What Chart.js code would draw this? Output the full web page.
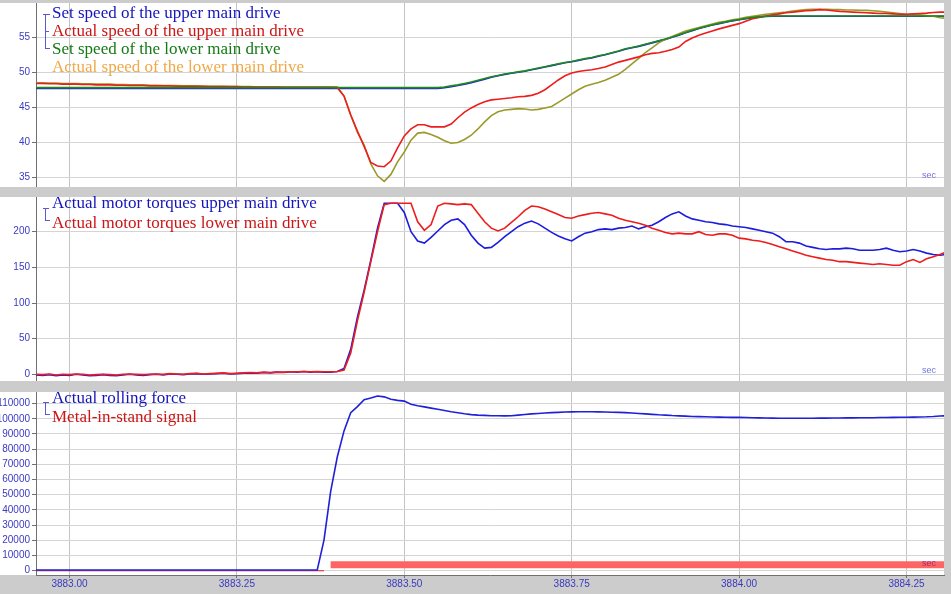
<!DOCTYPE html>
<html>
<head>
<meta charset="utf-8">
<script src="https://cdn.jsdelivr.net/npm/chart.js@4.4.1/dist/chart.umd.min.js"></script>
<style>
  body { margin: 0; background: #cccccc; width: 951px; height: 594px; overflow: hidden; position: relative; }
  canvas { position: absolute; left: 0; }
  .legend { position: absolute; left: 52px; font-family: "Liberation Serif", "Times New Roman", serif; font-size: 17px; white-space: nowrap; z-index: 2; }
  .ln { position: absolute; background: #5a5acc; z-index: 2; }
  .sec { position: absolute; left: 922px; font: 9px "Liberation Sans", Arial, sans-serif; color: #7474dd; z-index: 2; }
</style>
</head>
<body>
<canvas id="speed" width="951" height="187" style="top:0px"></canvas>
<canvas id="torque" width="951" height="186" style="top:195px"></canvas>
<canvas id="force" width="951" height="205" style="top:389px"></canvas>

<div class="legend" style="top:4px; line-height:18px">
  <div style="color:#1515bb">Set speed of the upper main drive</div>
  <div style="color:#cc1515">Actual speed of the upper main drive</div>
  <div style="color:#157a15">Set speed of the lower main drive</div>
  <div style="color:#f0a848">Actual speed of the lower main drive</div>
</div>
<div class="ln" style="left:45px; top:14px; width:1px; height:35px"></div>
<div class="ln" style="left:43px; top:14px; width:7px; height:1px"></div>
<div class="ln" style="left:45px; top:31px; width:4px; height:1px"></div>
<div class="ln" style="left:45px; top:48px; width:5px; height:1px"></div>

<div class="legend" style="top:193px; line-height:19.5px">
  <div style="color:#1515bb">Actual motor torques upper main drive</div>
  <div style="color:#cc1515">Actual motor torques lower main drive</div>
</div>
<div class="ln" style="left:45px; top:208px; width:1px; height:13px"></div>
<div class="ln" style="left:43px; top:208px; width:6px; height:1px"></div>
<div class="ln" style="left:45px; top:220px; width:5px; height:1px"></div>

<div class="legend" style="top:389px; line-height:18.5px">
  <div style="color:#1515bb">Actual rolling force</div>
  <div style="color:#cc1515">Metal-in-stand signal</div>
</div>
<div class="ln" style="left:45px; top:402px; width:1px; height:13px"></div>
<div class="ln" style="left:43px; top:402px; width:6px; height:1px"></div>
<div class="ln" style="left:45px; top:414px; width:5px; height:1px"></div>

<div class="sec" style="top:170px">sec</div>
<div class="sec" style="top:365px">sec</div>
<div class="sec" style="top:558px; color:#a03070">sec</div>

<script>
// sampled every 10 ms starting at 3882.95 s
const t0 = 3882.95;
const dt = 0.01;

const timeTicks = [3883.00, 3883.25, 3883.50, 3883.75, 3884.00, 3884.25];
const speedTicks = [35, 40, 45, 50, 55];
const torqueTicks = [0, 50, 100, 150, 200];
const forceTicks = [0, 10000, 20000, 30000, 40000, 50000, 60000, 70000, 80000, 90000, 100000, 110000];

const setSpeedUpper = [
  47.7, 47.7, 47.7, 47.7, 47.7, 47.7, 47.7, 47.7, 47.7, 47.7,
  47.7, 47.7, 47.7, 47.7, 47.7, 47.7, 47.7, 47.7, 47.7, 47.7,
  47.7, 47.7, 47.7, 47.7, 47.7, 47.7, 47.7, 47.7, 47.7, 47.7,
  47.7, 47.7, 47.7, 47.7, 47.7, 47.7, 47.7, 47.7, 47.7, 47.7,
  47.7, 47.7, 47.7, 47.7, 47.7, 47.7, 47.7, 47.7, 47.7, 47.7,
  47.7, 47.7, 47.7, 47.7, 47.7, 47.7, 47.7, 47.7, 47.7, 47.7,
  47.7, 47.8, 47.95, 48.1, 48.3, 48.5, 48.75, 49.0, 49.3, 49.5,
  49.7, 49.85, 50.0, 50.15, 50.35, 50.55, 50.75, 50.95, 51.15, 51.35,
  51.5, 51.7, 51.9, 52.05, 52.3, 52.5, 52.75, 53.0, 53.3, 53.5,
  53.7, 53.95, 54.2, 54.45, 54.7, 55.0, 55.3, 55.65, 55.95, 56.25,
  56.5, 56.75, 56.95, 57.15, 57.35, 57.5, 57.65, 57.8, 57.9, 57.98,
  58.0, 58.0, 58.0, 58.0, 58.0, 58.0, 58.0, 58.0, 58.0, 58.0,
  58.0, 58.0, 58.0, 58.0, 58.0, 58.0, 58.0, 58.0, 58.0, 58.0,
  58.0, 58.0, 58.0, 58.0, 58.0, 58.0, 58.0
];
const actSpeedUpper = [
  48.4, 48.4, 48.35, 48.35, 48.3, 48.3, 48.3, 48.25, 48.25, 48.2,
  48.2, 48.2, 48.15, 48.15, 48.1, 48.1, 48.1, 48.05, 48.05, 48.05,
  48.05, 48.0, 48.0, 48.0, 48.0, 48.0, 47.95, 47.95, 47.95, 47.95,
  47.95, 47.9, 47.9, 47.9, 47.9, 47.9, 47.9, 47.85, 47.85, 47.85,
  47.85, 47.85, 47.85, 47.85, 47.85, 47.8, 46.6, 43.9, 41.6, 39.4,
  37.1, 36.6, 36.5, 37.3, 39.2, 40.9, 41.9, 42.5, 42.5, 42.2,
  42.2, 42.2, 42.6, 43.5, 44.3, 44.9, 45.4, 45.8, 46.05, 46.15,
  46.25, 46.35, 46.5, 46.55, 46.7, 47.0, 47.5, 48.2, 48.9, 49.5,
  49.9, 50.1, 50.25, 50.35, 50.55, 50.75, 51.1, 51.45, 51.7, 51.95,
  52.2, 52.5, 52.7, 52.8, 53.0, 53.25, 53.6, 54.4, 54.9, 55.3,
  55.6, 55.9, 56.2, 56.45, 56.7, 56.95, 57.3, 57.65, 57.85, 58.05,
  58.2, 58.35, 58.5, 58.6, 58.7, 58.8, 58.85, 58.95, 58.9, 58.8,
  58.7, 58.65, 58.6, 58.55, 58.5, 58.45, 58.4, 58.4, 58.35, 58.3,
  58.3, 58.35, 58.4, 58.45, 58.55, 58.6, 58.6
];
const setSpeedLower = [
  47.8, 47.8, 47.8, 47.8, 47.8, 47.8, 47.8, 47.8, 47.8, 47.8,
  47.8, 47.8, 47.8, 47.8, 47.8, 47.8, 47.8, 47.8, 47.8, 47.8,
  47.8, 47.8, 47.8, 47.8, 47.8, 47.8, 47.8, 47.8, 47.8, 47.8,
  47.8, 47.8, 47.8, 47.8, 47.8, 47.8, 47.8, 47.8, 47.8, 47.8,
  47.8, 47.8, 47.8, 47.8, 47.8, 47.8, 47.8, 47.8, 47.8, 47.8,
  47.8, 47.8, 47.8, 47.8, 47.8, 47.8, 47.8, 47.8, 47.8, 47.8,
  47.8, 47.9, 48.05, 48.2, 48.4, 48.6, 48.85, 49.1, 49.35, 49.55,
  49.75, 49.9, 50.05, 50.2, 50.4, 50.6, 50.8, 51.0, 51.2, 51.4,
  51.55, 51.75, 51.95, 52.1, 52.35, 52.55, 52.8, 53.05, 53.35, 53.55,
  53.75, 54.0, 54.25, 54.5, 54.75, 55.05, 55.35, 55.7, 56.0, 56.3,
  56.55, 56.8, 57.0, 57.2, 57.4, 57.55, 57.7, 57.85, 57.95, 58.0,
  58.05, 58.05, 58.05, 58.05, 58.05, 58.05, 58.05, 58.05, 58.05, 58.05,
  58.05, 58.05, 58.05, 58.05, 58.05, 58.05, 58.05, 58.05, 58.05, 58.05,
  58.05, 58.05, 58.05, 58.05, 58.05, 58.05, 58.05
];
const actSpeedLower = [
  48.5, 48.5, 48.45, 48.45, 48.4, 48.4, 48.4, 48.35, 48.35, 48.3,
  48.3, 48.3, 48.25, 48.25, 48.2, 48.2, 48.2, 48.15, 48.15, 48.1,
  48.1, 48.1, 48.05, 48.05, 48.05, 48.0, 48.0, 48.0, 48.0, 47.95,
  47.95, 47.95, 47.95, 47.9, 47.9, 47.9, 47.9, 47.9, 47.9, 47.9,
  47.9, 47.9, 47.9, 47.9, 47.9, 47.9, 46.6, 43.9, 41.4, 39.6,
  36.9, 35.2, 34.4, 35.4, 37.2, 38.6, 40.3, 41.3, 41.4, 41.1,
  40.7, 40.2, 39.85, 39.95, 40.4, 41.0, 41.9, 42.9, 43.8, 44.35,
  44.6, 44.7, 44.8, 44.75, 44.6, 44.7, 44.9, 45.1, 45.7, 46.3,
  46.9, 47.5, 48.0, 48.3, 48.55, 48.85, 49.3, 49.7, 50.4, 51.2,
  52.0, 52.8, 53.5, 54.2, 54.7, 55.1, 55.5, 55.9, 56.15, 56.4,
  56.65, 56.9, 57.15, 57.3, 57.5, 57.65, 57.85, 58.0, 58.15, 58.3,
  58.4, 58.5, 58.6, 58.75, 58.85, 58.95, 59.0, 59.0, 59.0, 58.95,
  58.95, 58.9, 58.9, 58.85, 58.85, 58.8, 58.7, 58.6, 58.5, 58.4,
  58.3, 58.25, 58.2, 58.1, 58.0, 57.8, 57.7
];

const torqueUpper = [
  -1, -1.5, -0.5, -2, -1, -1.5, 0, -1, -2, -1.5,
  -0.5, -1.5, -2, -1, 0, -1, -1.5, -0.5, 0, -1,
  0.5, 0, -0.5, 0.5, 1, 0, 0.5, 1, 1.5, 0.5,
  1, 1.5, 2, 1.5, 2.5, 2, 3, 2.5, 3.5, 3,
  4, 3, 3.5, 3, 3, 4, 8, 35, 80, 118,
  160, 205, 240, 240, 240, 227, 200, 187, 184, 192,
  201, 210, 216, 218, 210, 195, 184, 177, 178, 185,
  193, 200, 207, 212, 215, 211, 205, 199, 194, 190,
  187, 193, 198, 200, 203, 204, 203, 205, 206, 208,
  204, 207, 209, 214, 220, 225, 228, 222, 218, 216,
  214, 213, 211, 210, 208, 207, 206, 204, 202, 200,
  198, 193, 186, 186, 184, 180, 178, 176, 175, 176,
  176, 177, 176, 174, 174, 174, 175, 177, 174, 172,
  173, 175, 173, 170, 168, 167, 168
];
const torqueLower = [
  0, -0.5, 0.5, -1, 0, -0.5, 0.5, 0, -1, -0.5,
  0, -0.5, -1, 0, 0.5, 0, -0.5, 0, 0.5, 0,
  1, 0.5, 0, 1, 1.5, 0.5, 1, 1.5, 2, 1,
  1.5, 2, 2.5, 2, 3, 2.5, 3, 3, 3.5, 3.5,
  4, 3.5, 4, 3.5, 3.5, 4, 6, 30, 75, 115,
  158, 200, 238, 240, 240, 240, 240, 214, 202, 210,
  236, 240, 239, 238, 239, 238, 226, 214, 205, 201,
  205, 213, 221, 230, 236, 235, 232, 228, 224, 220,
  219, 222, 224, 226, 227, 225, 223, 219, 216, 214,
  212, 209, 205, 202, 199, 197, 198, 197, 197, 200,
  196, 195, 197, 197, 195, 191, 190, 188, 187, 185,
  182, 179, 176, 173, 170, 167, 165, 163, 161, 160,
  158, 158, 157, 156, 155, 154, 155, 154, 153, 153,
  158, 161, 157, 162, 165, 168, 172
];

const rollingForce = [
  500, 500, 500, 500, 500, 500, 500, 500, 500, 500,
  500, 500, 500, 500, 500, 500, 500, 500, 500, 500,
  500, 500, 500, 500, 500, 500, 500, 500, 500, 500,
  500, 500, 500, 500, 500, 500, 500, 500, 500, 500,
  500, 500, 500, 20000, 52000, 75000, 92000, 104000, 108000, 112500,
  113600, 115000, 114400, 112800, 112100, 111600, 109600, 108600, 107800, 107000,
  106200, 105400, 104600, 104000, 103300, 102700, 102400, 102200, 102000, 102000,
  101900, 102000, 102400, 102800, 103200, 103500, 103800, 104000, 104200, 104400,
  104500, 104600, 104600, 104600, 104500, 104400, 104300, 104200, 104000, 103800,
  103500, 103200, 102900, 102600, 102400, 102100, 101900, 101700, 101500, 101400,
  101300, 101200, 101100, 101000, 100900, 100900, 100800, 100700, 100600, 100500,
  100400, 100300, 100300, 100300, 100300, 100300, 100300, 100400, 100400, 100500,
  100500, 100600, 100600, 100700, 100700, 100700, 100800, 100800, 100900, 101000,
  101000, 101100, 101200, 101300, 101500, 101800, 102000
];
const metalInStand = [
  0, 0, 0, 0, 0, 0, 0, 0, 0, 0,
  0, 0, 0, 0, 0, 0, 0, 0, 0, 0,
  0, 0, 0, 0, 0, 0, 0, 0, 0, 0,
  0, 0, 0, 0, 0, 0, 0, 0, 0, 0,
  0, 0, 0, 0, 1, 1, 1, 1, 1, 1,
  1, 1, 1, 1, 1, 1, 1, 1, 1, 1,
  1, 1, 1, 1, 1, 1, 1, 1, 1, 1,
  1, 1, 1, 1, 1, 1, 1, 1, 1, 1,
  1, 1, 1, 1, 1, 1, 1, 1, 1, 1,
  1, 1, 1, 1, 1, 1, 1, 1, 1, 1,
  1, 1, 1, 1, 1, 1, 1, 1, 1, 1,
  1, 1, 1, 1, 1, 1, 1, 1, 1, 1,
  1, 1, 1, 1, 1, 1, 1, 1, 1, 1,
  1, 1, 1, 1, 1, 1, 1
];

const sampleTime = setSpeedUpper.map((_, i) => +(t0 + i * dt).toFixed(2));
const pts = arr => arr.map((v, i) => ({ x: sampleTime[i], y: v }));

// white plot background including the tick label strip
const plotBg = {
  id: 'plotBg',
  beforeDraw(chart) {
    const { ctx, chartArea: a } = chart;
    ctx.save();
    ctx.fillStyle = '#ffffff';
    ctx.fillRect(0, a.top, a.right, a.bottom - a.top);
    ctx.restore();
  }
};

const tickFont = { family: 'Liberation Sans, Arial, sans-serif', size: 10 };

function makePanel(id, datasets, yMin, yMax, yTicks, showX, topPad) {
  return new Chart(document.getElementById(id), {
    type: 'line',
    data: { datasets: datasets },
    plugins: [plotBg],
    options: {
      responsive: false,
      animation: false,
      events: [],
      layout: { padding: { top: topPad, right: 7, left: 0, bottom: 0 } },
      plugins: { legend: { display: false }, tooltip: { enabled: false } },
      elements: { point: { radius: 0 }, line: { borderWidth: 1.6, tension: 0 } },
      scales: {
        x: {
          type: 'linear',
          min: 3882.95,
          max: 3884.306,
          afterBuildTicks: s => { s.ticks = timeTicks.map(v => ({ value: v })); },
          afterFit: s => { s.height = showX ? 19 : 0; s.paddingLeft = 0; s.paddingRight = 0; },
          grid: { color: '#c4c4c4', drawTicks: showX, tickLength: 3, tickColor: '#707070' },
          border: { display: showX, color: '#707070' },
          ticks: {
            display: showX, padding: 0, color: '#3a3ac0', font: tickFont,
            maxRotation: 0, autoSkip: false,
            callback: v => v.toFixed(2)
          }
        },
        y: {
          min: yMin,
          max: yMax,
          afterBuildTicks: s => { s.ticks = yTicks.map(v => ({ value: v })); },
          afterFit: s => { s.width = 36; s.paddingTop = 0; s.paddingBottom = 0; },
          grid: { color: '#d4d4d4', tickLength: 4, tickColor: '#707070' },
          border: { color: '#707070' },
          ticks: { padding: 2, color: '#3a3ac0', font: tickFont, autoSkip: false, callback: v => String(v) }
        }
      }
    }
  });
}

makePanel('speed', [
  { data: pts(setSpeedUpper), borderColor: '#1c1cdd', order: 3 },
  { data: pts(actSpeedUpper), borderColor: '#ee1c1c', order: 1 },
  { data: pts(setSpeedLower), borderColor: '#1e8a1e', order: 0 },
  { data: pts(actSpeedLower), borderColor: '#9a9a2a', order: 2 }
], 33.6, 59.9, speedTicks, false, 3);

makePanel('torque', [
  { data: pts(torqueUpper), borderColor: '#1c1cdd', order: 1 },
  { data: pts(torqueLower), borderColor: '#ee1c1c', order: 0 }
], -9.4, 248.7, torqueTicks, false, 2);

makePanel('force', [
  { data: pts(rollingForce), borderColor: '#2020d8', order: 0 },
  { data: pts(metalInStand.map(s => s ? 3950 : null)), borderColor: '#ff6464', borderWidth: 7, borderCapStyle: 'butt', spanGaps: false, order: 1 },
  { data: pts(metalInStand.map(s => s ? null : 0)), borderColor: '#dd2020', borderWidth: 1.2, spanGaps: false, order: 2 }
], -2800, 117600, forceTicks, true, 3);
</script>
</body>
</html>
